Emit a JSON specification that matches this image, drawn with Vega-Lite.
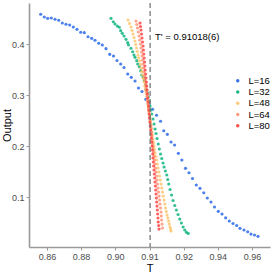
{
  "$schema": "https://vega.github.io/schema/vega-lite/v6.json",
  "autosize": {"type": "none"},
  "padding": {"left": 29, "top": 3, "right": 3, "bottom": 26},
  "width": 241,
  "height": 244,
  "config": {
    "view": {"stroke": null},
    "font": "Liberation Sans",
    "axis": {
      "grid": false,
      "domainColor": "#9a9a9a",
      "domainWidth": 1.6,
      "tickColor": "#9a9a9a",
      "tickSize": 3,
      "labelColor": "#4d4d4d",
      "labelFontSize": 9,
      "titleFontSize": 11,
      "titleFontWeight": "normal",
      "titleColor": "#000000"
    }
  },
  "datasets": {
    "pts": [
      {"L":"L=16","T":0.85635,"Output":0.4583},
      {"L":"L=16","T":0.85845,"Output":0.4530},
      {"L":"L=16","T":0.86044,"Output":0.4504},
      {"L":"L=16","T":0.86255,"Output":0.4510},
      {"L":"L=16","T":0.86471,"Output":0.4485},
      {"L":"L=16","T":0.86688,"Output":0.4465},
      {"L":"L=16","T":0.86898,"Output":0.4412},
      {"L":"L=16","T":0.87115,"Output":0.4387},
      {"L":"L=16","T":0.87331,"Output":0.4373},
      {"L":"L=16","T":0.87542,"Output":0.4334},
      {"L":"L=16","T":0.87759,"Output":0.4288},
      {"L":"L=16","T":0.87975,"Output":0.4230},
      {"L":"L=16","T":0.88186,"Output":0.4222},
      {"L":"L=16","T":0.88402,"Output":0.4143},
      {"L":"L=16","T":0.88619,"Output":0.4112},
      {"L":"L=16","T":0.88812,"Output":0.4073},
      {"L":"L=16","T":0.89028,"Output":0.4014},
      {"L":"L=16","T":0.89239,"Output":0.3981},
      {"L":"L=16","T":0.89455,"Output":0.3908},
      {"L":"L=16","T":0.89672,"Output":0.3798},
      {"L":"L=16","T":0.89894,"Output":0.3765},
      {"L":"L=16","T":0.90050,"Output":0.3677},
      {"L":"L=16","T":0.90158,"Output":0.3608},
      {"L":"L=16","T":0.90255,"Output":0.3539},
      {"L":"L=16","T":0.90363,"Output":0.3412},
      {"L":"L=16","T":0.90468,"Output":0.3347},
      {"L":"L=16","T":0.90577,"Output":0.3275},
      {"L":"L=16","T":0.90679,"Output":0.3137},
      {"L":"L=16","T":0.90781,"Output":0.3069},
      {"L":"L=16","T":0.90893,"Output":0.2916},
      {"L":"L=16","T":0.90992,"Output":0.2824},
      {"L":"L=16","T":0.91092,"Output":0.2720},
      {"L":"L=16","T":0.91206,"Output":0.2604},
      {"L":"L=16","T":0.91323,"Output":0.2486},
      {"L":"L=16","T":0.91417,"Output":0.2300},
      {"L":"L=16","T":0.91522,"Output":0.2229},
      {"L":"L=16","T":0.91630,"Output":0.2078},
      {"L":"L=16","T":0.91733,"Output":0.2020},
      {"L":"L=16","T":0.91844,"Output":0.1857},
      {"L":"L=16","T":0.91946,"Output":0.1725},
      {"L":"L=16","T":0.92105,"Output":0.1563},
      {"L":"L=16","T":0.92310,"Output":0.1476},
      {"L":"L=16","T":0.92515,"Output":0.1363},
      {"L":"L=16","T":0.92737,"Output":0.1235},
      {"L":"L=16","T":0.92954,"Output":0.1170},
      {"L":"L=16","T":0.93176,"Output":0.1084},
      {"L":"L=16","T":0.93381,"Output":0.0980},
      {"L":"L=16","T":0.93597,"Output":0.0902},
      {"L":"L=16","T":0.93802,"Output":0.0804},
      {"L":"L=16","T":0.94024,"Output":0.0719},
      {"L":"L=16","T":0.94241,"Output":0.0667},
      {"L":"L=16","T":0.94457,"Output":0.0592},
      {"L":"L=16","T":0.94668,"Output":0.0529},
      {"L":"L=16","T":0.94885,"Output":0.0480},
      {"L":"L=16","T":0.95101,"Output":0.0441},
      {"L":"L=16","T":0.95294,"Output":0.0386},
      {"L":"L=16","T":0.95528,"Output":0.0353},
      {"L":"L=16","T":0.95745,"Output":0.0319},
      {"L":"L=16","T":0.95938,"Output":0.0274},
      {"L":"L=16","T":0.96143,"Output":0.0255},
      {"L":"L=16","T":0.96347,"Output":0.0229},
      {"L":"L=32","T":0.89748,"Output":0.4504},
      {"L":"L=32","T":0.89883,"Output":0.4437},
      {"L":"L=32","T":0.89982,"Output":0.4392},
      {"L":"L=32","T":0.90059,"Output":0.4353},
      {"L":"L=32","T":0.90117,"Output":0.4328},
      {"L":"L=32","T":0.90158,"Output":0.4261},
      {"L":"L=32","T":0.90205,"Output":0.4210},
      {"L":"L=32","T":0.90255,"Output":0.4157},
      {"L":"L=32","T":0.90313,"Output":0.4092},
      {"L":"L=32","T":0.90363,"Output":0.4026},
      {"L":"L=32","T":0.90386,"Output":0.3981},
      {"L":"L=32","T":0.90460,"Output":0.3916},
      {"L":"L=32","T":0.90509,"Output":0.3849},
      {"L":"L=32","T":0.90547,"Output":0.3784},
      {"L":"L=32","T":0.90577,"Output":0.3739},
      {"L":"L=32","T":0.90626,"Output":0.3673},
      {"L":"L=32","T":0.90656,"Output":0.3608},
      {"L":"L=32","T":0.90702,"Output":0.3555},
      {"L":"L=32","T":0.90743,"Output":0.3477},
      {"L":"L=32","T":0.90773,"Output":0.3392},
      {"L":"L=32","T":0.90820,"Output":0.3347},
      {"L":"L=32","T":0.90849,"Output":0.3281},
      {"L":"L=32","T":0.90890,"Output":0.3196},
      {"L":"L=32","T":0.90899,"Output":0.3112},
      {"L":"L=32","T":0.90937,"Output":0.3045},
      {"L":"L=32","T":0.90966,"Output":0.2961},
      {"L":"L=32","T":0.90995,"Output":0.2873},
      {"L":"L=32","T":0.91016,"Output":0.2784},
      {"L":"L=32","T":0.91045,"Output":0.2706},
      {"L":"L=32","T":0.91065,"Output":0.2628},
      {"L":"L=32","T":0.91103,"Output":0.2529},
      {"L":"L=32","T":0.91133,"Output":0.2431},
      {"L":"L=32","T":0.91162,"Output":0.2333},
      {"L":"L=32","T":0.91191,"Output":0.2245},
      {"L":"L=32","T":0.91221,"Output":0.2147},
      {"L":"L=32","T":0.91256,"Output":0.2039},
      {"L":"L=32","T":0.91288,"Output":0.1941},
      {"L":"L=32","T":0.91323,"Output":0.1843},
      {"L":"L=32","T":0.91358,"Output":0.1755},
      {"L":"L=32","T":0.91396,"Output":0.1667},
      {"L":"L=32","T":0.91425,"Output":0.1588},
      {"L":"L=32","T":0.91464,"Output":0.1510},
      {"L":"L=32","T":0.91505,"Output":0.1431},
      {"L":"L=32","T":0.91534,"Output":0.1343},
      {"L":"L=32","T":0.91563,"Output":0.1255},
      {"L":"L=32","T":0.91601,"Output":0.1147},
      {"L":"L=32","T":0.91645,"Output":0.1039},
      {"L":"L=32","T":0.91689,"Output":0.0931},
      {"L":"L=32","T":0.91739,"Output":0.0833},
      {"L":"L=32","T":0.91786,"Output":0.0745},
      {"L":"L=32","T":0.91835,"Output":0.0657},
      {"L":"L=32","T":0.91885,"Output":0.0568},
      {"L":"L=32","T":0.91932,"Output":0.0490},
      {"L":"L=32","T":0.91982,"Output":0.0412},
      {"L":"L=32","T":0.92064,"Output":0.0353},
      {"L":"L=32","T":0.92164,"Output":0.0308},
      {"L":"L=32","T":0.92269,"Output":0.0284},
      {"L":"L=48","T":0.90372,"Output":0.4471},
      {"L":"L=48","T":0.90416,"Output":0.4402},
      {"L":"L=48","T":0.90459,"Output":0.4334},
      {"L":"L=48","T":0.90489,"Output":0.4265},
      {"L":"L=48","T":0.90518,"Output":0.4196},
      {"L":"L=48","T":0.90547,"Output":0.4128},
      {"L":"L=48","T":0.90576,"Output":0.4059},
      {"L":"L=48","T":0.90598,"Output":0.3990},
      {"L":"L=48","T":0.90620,"Output":0.3922},
      {"L":"L=48","T":0.90642,"Output":0.3853},
      {"L":"L=48","T":0.90664,"Output":0.3784},
      {"L":"L=48","T":0.90686,"Output":0.3726},
      {"L":"L=48","T":0.90708,"Output":0.3667},
      {"L":"L=48","T":0.90730,"Output":0.3598},
      {"L":"L=48","T":0.90752,"Output":0.3530},
      {"L":"L=48","T":0.90774,"Output":0.3461},
      {"L":"L=48","T":0.90796,"Output":0.3392},
      {"L":"L=48","T":0.90818,"Output":0.3324},
      {"L":"L=48","T":0.90840,"Output":0.3255},
      {"L":"L=48","T":0.90862,"Output":0.3177},
      {"L":"L=48","T":0.90884,"Output":0.3098},
      {"L":"L=48","T":0.90906,"Output":0.3030},
      {"L":"L=48","T":0.90928,"Output":0.2961},
      {"L":"L=48","T":0.90942,"Output":0.2892},
      {"L":"L=48","T":0.90957,"Output":0.2824},
      {"L":"L=48","T":0.90972,"Output":0.2755},
      {"L":"L=48","T":0.90986,"Output":0.2686},
      {"L":"L=48","T":0.91001,"Output":0.2618},
      {"L":"L=48","T":0.91016,"Output":0.2549},
      {"L":"L=48","T":0.91030,"Output":0.2480},
      {"L":"L=48","T":0.91045,"Output":0.2412},
      {"L":"L=48","T":0.91059,"Output":0.2343},
      {"L":"L=48","T":0.91074,"Output":0.2275},
      {"L":"L=48","T":0.91089,"Output":0.2206},
      {"L":"L=48","T":0.91103,"Output":0.2137},
      {"L":"L=48","T":0.91118,"Output":0.2069},
      {"L":"L=48","T":0.91133,"Output":0.2000},
      {"L":"L=48","T":0.91147,"Output":0.1931},
      {"L":"L=48","T":0.91162,"Output":0.1863},
      {"L":"L=48","T":0.91184,"Output":0.1794},
      {"L":"L=48","T":0.91206,"Output":0.1725},
      {"L":"L=48","T":0.91228,"Output":0.1647},
      {"L":"L=48","T":0.91250,"Output":0.1569},
      {"L":"L=48","T":0.91272,"Output":0.1490},
      {"L":"L=48","T":0.91294,"Output":0.1412},
      {"L":"L=48","T":0.91316,"Output":0.1333},
      {"L":"L=48","T":0.91338,"Output":0.1255},
      {"L":"L=48","T":0.91359,"Output":0.1176},
      {"L":"L=48","T":0.91381,"Output":0.1098},
      {"L":"L=48","T":0.91403,"Output":0.1019},
      {"L":"L=48","T":0.91425,"Output":0.0941},
      {"L":"L=48","T":0.91447,"Output":0.0863},
      {"L":"L=48","T":0.91469,"Output":0.0784},
      {"L":"L=48","T":0.91491,"Output":0.0716},
      {"L":"L=48","T":0.91513,"Output":0.0647},
      {"L":"L=48","T":0.91535,"Output":0.0588},
      {"L":"L=48","T":0.91557,"Output":0.0529},
      {"L":"L=48","T":0.91579,"Output":0.0470},
      {"L":"L=48","T":0.91601,"Output":0.0412},
      {"L":"L=48","T":0.91616,"Output":0.0372},
      {"L":"L=48","T":0.91630,"Output":0.0333},
      {"L":"L=64","T":0.90606,"Output":0.4451},
      {"L":"L=64","T":0.90628,"Output":0.4383},
      {"L":"L=64","T":0.90650,"Output":0.4314},
      {"L":"L=64","T":0.90672,"Output":0.4236},
      {"L":"L=64","T":0.90694,"Output":0.4157},
      {"L":"L=64","T":0.90716,"Output":0.4079},
      {"L":"L=64","T":0.90737,"Output":0.4000},
      {"L":"L=64","T":0.90752,"Output":0.3922},
      {"L":"L=64","T":0.90767,"Output":0.3843},
      {"L":"L=64","T":0.90781,"Output":0.3765},
      {"L":"L=64","T":0.90796,"Output":0.3686},
      {"L":"L=64","T":0.90811,"Output":0.3608},
      {"L":"L=64","T":0.90825,"Output":0.3530},
      {"L":"L=64","T":0.90840,"Output":0.3451},
      {"L":"L=64","T":0.90855,"Output":0.3373},
      {"L":"L=64","T":0.90869,"Output":0.3294},
      {"L":"L=64","T":0.90884,"Output":0.3216},
      {"L":"L=64","T":0.90898,"Output":0.3137},
      {"L":"L=64","T":0.90913,"Output":0.3059},
      {"L":"L=64","T":0.90928,"Output":0.2980},
      {"L":"L=64","T":0.90942,"Output":0.2902},
      {"L":"L=64","T":0.90957,"Output":0.2824},
      {"L":"L=64","T":0.90972,"Output":0.2745},
      {"L":"L=64","T":0.90986,"Output":0.2667},
      {"L":"L=64","T":0.91001,"Output":0.2588},
      {"L":"L=64","T":0.91016,"Output":0.2510},
      {"L":"L=64","T":0.91030,"Output":0.2431},
      {"L":"L=64","T":0.91045,"Output":0.2353},
      {"L":"L=64","T":0.91059,"Output":0.2275},
      {"L":"L=64","T":0.91067,"Output":0.2196},
      {"L":"L=64","T":0.91074,"Output":0.2118},
      {"L":"L=64","T":0.91089,"Output":0.2039},
      {"L":"L=64","T":0.91103,"Output":0.1961},
      {"L":"L=64","T":0.91118,"Output":0.1882},
      {"L":"L=64","T":0.91133,"Output":0.1804},
      {"L":"L=64","T":0.91147,"Output":0.1725},
      {"L":"L=64","T":0.91162,"Output":0.1647},
      {"L":"L=64","T":0.91177,"Output":0.1569},
      {"L":"L=64","T":0.91191,"Output":0.1490},
      {"L":"L=64","T":0.91206,"Output":0.1412},
      {"L":"L=64","T":0.91220,"Output":0.1333},
      {"L":"L=64","T":0.91235,"Output":0.1255},
      {"L":"L=64","T":0.91250,"Output":0.1176},
      {"L":"L=64","T":0.91264,"Output":0.1098},
      {"L":"L=64","T":0.91279,"Output":0.1019},
      {"L":"L=64","T":0.91294,"Output":0.0941},
      {"L":"L=64","T":0.91308,"Output":0.0863},
      {"L":"L=64","T":0.91323,"Output":0.0784},
      {"L":"L=64","T":0.91338,"Output":0.0706},
      {"L":"L=64","T":0.91345,"Output":0.0627},
      {"L":"L=64","T":0.91352,"Output":0.0549},
      {"L":"L=64","T":0.91367,"Output":0.0470},
      {"L":"L=64","T":0.91381,"Output":0.0392},
      {"L":"L=80","T":0.90723,"Output":0.4412},
      {"L":"L=80","T":0.90737,"Output":0.4343},
      {"L":"L=80","T":0.90752,"Output":0.4275},
      {"L":"L=80","T":0.90767,"Output":0.4196},
      {"L":"L=80","T":0.90781,"Output":0.4118},
      {"L":"L=80","T":0.90796,"Output":0.4039},
      {"L":"L=80","T":0.90811,"Output":0.3961},
      {"L":"L=80","T":0.90822,"Output":0.3883},
      {"L":"L=80","T":0.90834,"Output":0.3804},
      {"L":"L=80","T":0.90844,"Output":0.3726},
      {"L":"L=80","T":0.90855,"Output":0.3647},
      {"L":"L=80","T":0.90865,"Output":0.3569},
      {"L":"L=80","T":0.90875,"Output":0.3490},
      {"L":"L=80","T":0.90887,"Output":0.3412},
      {"L":"L=80","T":0.90898,"Output":0.3333},
      {"L":"L=80","T":0.90909,"Output":0.3255},
      {"L":"L=80","T":0.90919,"Output":0.3177},
      {"L":"L=80","T":0.90929,"Output":0.3098},
      {"L":"L=80","T":0.90939,"Output":0.3020},
      {"L":"L=80","T":0.90950,"Output":0.2941},
      {"L":"L=80","T":0.90960,"Output":0.2863},
      {"L":"L=80","T":0.90970,"Output":0.2784},
      {"L":"L=80","T":0.90980,"Output":0.2706},
      {"L":"L=80","T":0.90991,"Output":0.2628},
      {"L":"L=80","T":0.91001,"Output":0.2549},
      {"L":"L=80","T":0.91011,"Output":0.2471},
      {"L":"L=80","T":0.91021,"Output":0.2392},
      {"L":"L=80","T":0.91033,"Output":0.2314},
      {"L":"L=80","T":0.91045,"Output":0.2235},
      {"L":"L=80","T":0.91055,"Output":0.2157},
      {"L":"L=80","T":0.91065,"Output":0.2078},
      {"L":"L=80","T":0.91076,"Output":0.2000},
      {"L":"L=80","T":0.91086,"Output":0.1922},
      {"L":"L=80","T":0.91095,"Output":0.1843},
      {"L":"L=80","T":0.91103,"Output":0.1765},
      {"L":"L=80","T":0.91112,"Output":0.1686},
      {"L":"L=80","T":0.91121,"Output":0.1608},
      {"L":"L=80","T":0.91131,"Output":0.1529},
      {"L":"L=80","T":0.91141,"Output":0.1451},
      {"L":"L=80","T":0.91152,"Output":0.1372},
      {"L":"L=80","T":0.91162,"Output":0.1294},
      {"L":"L=80","T":0.91172,"Output":0.1216},
      {"L":"L=80","T":0.91182,"Output":0.1137},
      {"L":"L=80","T":0.91191,"Output":0.1059},
      {"L":"L=80","T":0.91200,"Output":0.0980},
      {"L":"L=80","T":0.91210,"Output":0.0902},
      {"L":"L=80","T":0.91220,"Output":0.0823},
      {"L":"L=80","T":0.91229,"Output":0.0745},
      {"L":"L=80","T":0.91238,"Output":0.0667},
      {"L":"L=80","T":0.91247,"Output":0.0588},
      {"L":"L=80","T":0.91256,"Output":0.0510},
      {"L":"L=80","T":0.91267,"Output":0.0441},
      {"L":"L=80","T":0.91279,"Output":0.0372}
    ]
  },
  "layer": [
    {
      "data": {"name": "pts"},
      "mark": {"type": "point", "filled": true, "size": 10, "opacity": 0.8},
      "encoding": {
        "x": {
          "field": "T", "type": "quantitative", "title": "T",
          "scale": {"domain": [0.8495, 0.90, 0.92, 0.9705], "range": [0, 86.3, 154.7, 241], "nice": false, "zero": false},
          "axis": {"values": [0.86, 0.88, 0.90, 0.91, 0.92, 0.94, 0.96], "format": ".2f", "labelPadding": 2, "titlePadding": 1}
        },
        "y": {
          "field": "Output", "type": "quantitative", "title": "Output",
          "scale": {"domain": [0.002, 0.4804], "nice": false, "zero": false},
          "axis": {"values": [0.1, 0.2, 0.3, 0.4], "format": ".1f", "labelPadding": 2, "titleX": -22, "titleY": 122, "titleBaseline": "middle", "titleAngle": -90}
        },
        "color": {
          "field": "L", "type": "nominal",
          "scale": {"domain": ["L=16", "L=32", "L=48", "L=64", "L=80"], "range": ["#1f62e6", "#00b07a", "#ffc266", "#ff8f6e", "#ff3b3b"]},
          "legend": {
            "title": null, "orient": "none", "legendX": 204, "legendY": 73,
            "padding": 0, "rowPadding": 0.25, "symbolSize": 12, "symbolOpacity": 0.9,
            "labelFontSize": 9.5, "labelColor": "#000000", "labelOffset": 6, "symbolType": "circle"
          }
        }
      }
    },
    {
      "data": {"values": [{"Tc": 0.91018}]},
      "mark": {"type": "rule", "strokeDash": [5, 3], "color": "#6e6e6e", "strokeWidth": 1.2},
      "encoding": {"x": {"field": "Tc", "type": "quantitative"}}
    },
    {
      "data": {"values": [{"T": 0.91162, "Output": 0.4137, "label": "T' = 0.91018(6)"}]},
      "mark": {"type": "text", "align": "left", "baseline": "middle", "fontSize": 9.5, "color": "#000000"},
      "encoding": {
        "x": {"field": "T", "type": "quantitative"},
        "y": {"field": "Output", "type": "quantitative"},
        "text": {"field": "label"}
      }
    }
  ]
}
